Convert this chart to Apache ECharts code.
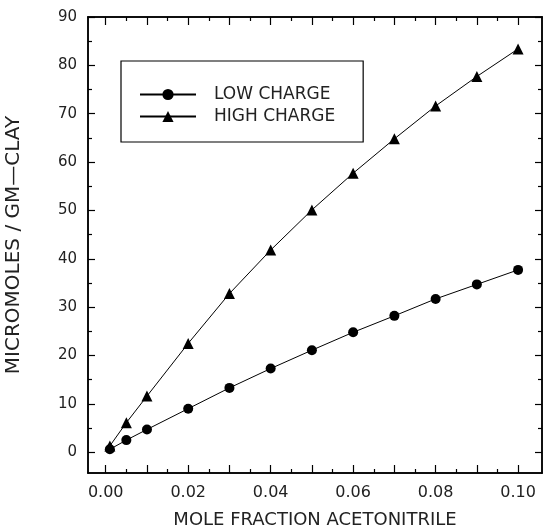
<!DOCTYPE html>
<html>
<head>
<meta charset="utf-8">
<script src="https://cdn.jsdelivr.net/npm/echarts@6/dist/echarts.min.js"></script>
<style>html,body{margin:0;padding:0;background:#fff}#c{width:543px;height:530px}</style>
</head>
<body>
<div id="c"></div>
<script>
// ---- data ----
const xValues = [0.001, 0.005, 0.01, 0.02, 0.03, 0.04, 0.05, 0.06, 0.07, 0.08, 0.09, 0.10];
const lowCharge = [0.6, 2.5, 4.7, 9.0, 13.3, 17.3, 21.1, 24.8, 28.2, 31.7, 34.7, 37.7];
const highCharge = [1.3, 6.1, 11.6, 22.5, 32.8, 41.8, 50.1, 57.7, 64.8, 71.6, 77.7, 83.4];
const seriesNames = ['LOW CHARGE', 'HIGH CHARGE'];
const xLabelValues = [0, 0.02, 0.04, 0.06, 0.08, 0.10];
const xMajorTicks = [0, 0.01, 0.02, 0.03, 0.04, 0.05, 0.06, 0.07, 0.08, 0.09, 0.10];
const xMinorTicks = [0.005, 0.015, 0.025, 0.035, 0.045, 0.055, 0.065, 0.075, 0.085, 0.095];
const yLabelValues = [0, 10, 20, 30, 40, 50, 60, 70, 80, 90];
const yMinorTicks = [5, 15, 25, 35, 45, 55, 65, 75, 85];
const xTitle = 'MOLE FRACTION ACETONITRILE';
const yTitle = 'MICROMOLES / GM\u2014CLAY';

const FONT = 'DejaVu Sans';
const TXT = '#222';
const X_MIN = -0.0043, X_MAX = 0.1058, Y_MIN = -4.3, Y_MAX = 90;

function xAx(pos, ticks, len, labels, extra) {
  return Object.assign({
    type: 'value', position: pos, min: X_MIN, max: X_MAX,
    axisLine: { show: true, onZero: false, lineStyle: { color: '#000', width: 1.5 } },
    axisTick: { show: true, inside: true, length: len, customValues: ticks, lineStyle: { color: '#000', width: 1.2 } },
    axisLabel: labels ? { show: true, customValues: labels, formatter: v => v.toFixed(2), color: TXT, fontFamily: FONT, fontSize: 16, margin: 12 } : { show: false },
    splitLine: { show: false }
  }, extra || {});
}
function yAx(pos, ticks, len, labels, extra) {
  return Object.assign({
    type: 'value', position: pos, min: Y_MIN, max: Y_MAX,
    axisLine: { show: true, onZero: false, lineStyle: { color: '#000', width: 1.5 } },
    axisTick: { show: true, inside: true, length: len, customValues: ticks, lineStyle: { color: '#000', width: 1.2 } },
    axisLabel: labels ? { show: true, customValues: labels, formatter: v => String(Math.round(v)), color: TXT, fontFamily: FONT, fontSize: 15, margin: 11 } : { show: false },
    splitLine: { show: false }
  }, extra || {});
}

const chart = echarts.init(document.getElementById('c'), null, { renderer: 'canvas' });
chart.setOption({
  backgroundColor: '#fff',
  animation: false,
  grid: { left: 88, right: 1, top: 17, bottom: 57, containLabel: false, outerBoundsMode: 'none' },
  legend: {
    orient: 'vertical', left: 121, top: 61,
    padding: [25, 28, 17, 18], itemGap: 5,
    itemWidth: 56, itemHeight: 14,
    borderColor: '#000', borderWidth: 1.2,
    textStyle: { color: TXT, fontFamily: FONT, fontSize: 17, padding: [0, 0, 0, 13] },
    data: seriesNames
  },
  xAxis: [
    xAx('bottom', xMajorTicks, 8, xLabelValues, {
      name: xTitle, nameLocation: 'middle', nameGap: 38,
      nameTextStyle: { color: TXT, fontFamily: FONT, fontSize: 18 }
    }),
    xAx('bottom', xMinorTicks, 4, null),
    xAx('top', xMajorTicks, 8, null),
    xAx('top', xMinorTicks, 4, null)
  ],
  yAxis: [
    yAx('left', yLabelValues, 7, yLabelValues, {
      name: yTitle, nameLocation: 'middle', nameGap: 64,
      nameTextStyle: { color: TXT, fontFamily: FONT, fontSize: 20 }
    }),
    yAx('left', yMinorTicks, 4, null),
    yAx('right', yLabelValues, 7, null),
    yAx('right', yMinorTicks, 4, null)
  ],
  series: [
    {
      name: seriesNames[0], type: 'line', xAxisIndex: 0, yAxisIndex: 0,
      data: xValues.map((x, i) => [x, lowCharge[i]]),
      symbol: 'circle', symbolSize: 10,
      lineStyle: { color: '#000', width: 1 }, itemStyle: { color: '#000' }
    },
    {
      name: seriesNames[1], type: 'line', xAxisIndex: 0, yAxisIndex: 0,
      data: xValues.map((x, i) => [x, highCharge[i]]),
      symbol: 'triangle', symbolSize: 11,
      lineStyle: { color: '#000', width: 1 }, itemStyle: { color: '#000' }
    }
  ]
});
</script>
</body>
</html>
